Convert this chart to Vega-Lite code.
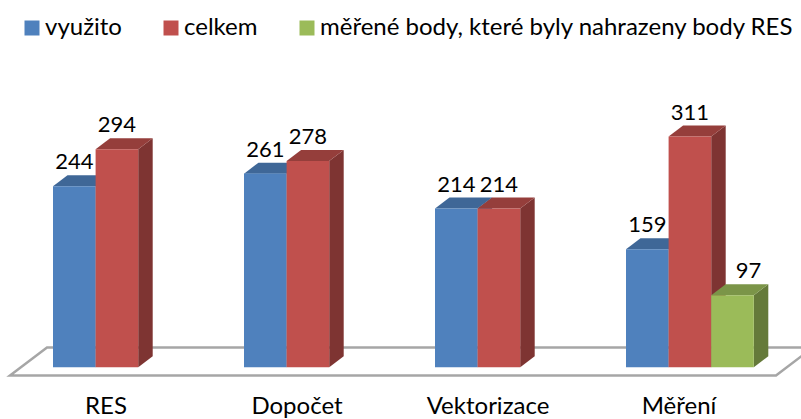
{
"$schema":"https://vega.github.io/schema/vega-lite/v6.json",
"width":801,"height":419,"padding":0,"autosize":{"type":"none"},
"background":"white",
"view":{"stroke":null},
"config":{"font":"Lato"},
"datasets":{
"bars":[
{"skupina":"RES","rada":"využito","hodnota":244},
{"skupina":"RES","rada":"celkem","hodnota":294},
{"skupina":"Dopočet","rada":"využito","hodnota":261},
{"skupina":"Dopočet","rada":"celkem","hodnota":278},
{"skupina":"Vektorizace","rada":"využito","hodnota":214},
{"skupina":"Vektorizace","rada":"celkem","hodnota":214},
{"skupina":"Měření","rada":"využito","hodnota":159},
{"skupina":"Měření","rada":"celkem","hodnota":311},
{"skupina":"Měření","rada":"měřené body, které byly nahrazeny body RES","hodnota":97}
],
"kategorie":[{"skupina":"RES","poradi":0},{"skupina":"Dopočet","poradi":1},{"skupina":"Vektorizace","poradi":2},{"skupina":"Měření","poradi":3}],
"podlaha":[{"p":0,"x":815,"y":26.7},{"p":1,"x":47,"y":26.7},{"p":2,"x":10,"y":-11},{"p":3,"x":776,"y":-11},{"p":4,"x":813,"y":26.7}]
},
"layer":[
{"data":{"name":"podlaha"},
 "mark":{"type":"line","color":"#A6A6A6","strokeWidth":2.5,"clip":false},
 "encoding":{"x":{"field":"x","type":"quantitative","scale":{"domain":[0,801],"nice":false,"zero":false},"axis":null},
 "y":{"field":"y","type":"quantitative","scale":{"domain":[-69.7,495],"nice":false,"zero":false},"axis":null},
 "order":{"field":"p"}}},
{"data":{"name":"bars"},
 "transform":[
 {"calculate":"53+191*indexof(['RES','Dopočet','Vektorizace','Měření'],datum.skupina)+42.6*indexof(['využito','celkem','měřené body, které byly nahrazeny body RES'],datum.rada)","as":"x0"},
 {"calculate":"datum.x0+42.6","as":"x1"},
 {"calculate":"[0,1]","as":"t"},{"flatten":["t"]},
 {"calculate":"datum.x1+14.5*datum.t","as":"sx"},
 {"calculate":"datum.hodnota+14.8*datum.t","as":"sy"},
 {"calculate":"14.8*datum.t","as":"sy2"},
 {"calculate":"datum.skupina+datum.rada","as":"id"}],
 "mark":{"type":"area"},
 "encoding":{"x":{"field":"sx","type":"quantitative","scale":{"domain":[0,801],"nice":false,"zero":false},"axis":null},
 "y":{"field":"sy","type":"quantitative","stack":null,"scale":{"domain":[-69.7,495],"nice":false,"zero":false},"axis":null},
 "y2":{"field":"sy2"},
 "detail":{"field":"id"},
 "color":{"field":"rada","type":"nominal","legend":null,"scale":{"domain":["využito","celkem","měřené body, které byly nahrazeny body RES"],"range":["#3A5F8C","#7E3432","#657A3A"]}}}},
{"data":{"name":"bars"},
 "transform":[
 {"calculate":"53+191*indexof(['RES','Dopočet','Vektorizace','Měření'],datum.skupina)+42.6*indexof(['využito','celkem','měřené body, které byly nahrazeny body RES'],datum.rada)","as":"x0"},
 {"calculate":"datum.x0+42.6","as":"x1"},
 {"calculate":"[0,1]","as":"t"},{"flatten":["t"]},
 {"calculate":"datum.x0+14.5*datum.t","as":"tx"},
 {"calculate":"datum.x1+14.5*datum.t","as":"tx2"},
 {"calculate":"datum.hodnota+14.8*datum.t","as":"ty"},
 {"calculate":"datum.skupina+datum.rada","as":"id"}],
 "mark":{"type":"area","orient":"horizontal"},
 "encoding":{"x":{"field":"tx","type":"quantitative","stack":null,"scale":{"domain":[0,801],"nice":false,"zero":false},"axis":null},
 "x2":{"field":"tx2"},
 "y":{"field":"ty","type":"quantitative","scale":{"domain":[-69.7,495],"nice":false,"zero":false},"axis":null},
 "detail":{"field":"id"},
 "color":{"field":"rada","type":"nominal","legend":null,"scale":{"domain":["využito","celkem","měřené body, které byly nahrazeny body RES"],"range":["#3F6797","#953E3B","#7B9548"]}}}},
{"data":{"name":"bars"},
 "transform":[
 {"calculate":"53+191*indexof(['RES','Dopočet','Vektorizace','Měření'],datum.skupina)+42.6*indexof(['využito','celkem','měřené body, které byly nahrazeny body RES'],datum.rada)","as":"x0"},
 {"calculate":"datum.x0+42.6","as":"x1"}],
 "mark":{"type":"rect"},
 "encoding":{"x":{"field":"x0","type":"quantitative","scale":{"domain":[0,801],"nice":false,"zero":false},"axis":null},
 "x2":{"field":"x1"},
 "y":{"field":"hodnota","type":"quantitative","scale":{"domain":[-69.7,495],"nice":false,"zero":false},"axis":null},
 "y2":{"datum":0},
 "color":{"field":"rada","type":"nominal","sort":null,
 "scale":{"domain":["využito","celkem","měřené body, které byly nahrazeny body RES"],"range":["#4F81BD","#C0504D","#9BBB59"]},
 "legend":{"title":null,"orient":"none","legendX":20,"legendY":16,"direction":"horizontal","columns":3,"gridAlign":"none","symbolType":"square","symbolSize":225,"symbolStrokeWidth":0,"symbolOpacity":1,"labelFont":"Lato","labelFontSize":24,"labelColor":"#000000","labelLimit":1000,"labelOffset":1,"columnPadding":37,"symbolOffset":0,"padding":0,"labelOverlap":false}}}},
{"data":{"name":"bars"},
 "transform":[
 {"calculate":"74.3+191*indexof(['RES','Dopočet','Vektorizace','Měření'],datum.skupina)+42.6*indexof(['využito','celkem','měřené body, které byly nahrazeny body RES'],datum.rada)+(datum.hodnota==97?16:0)","as":"lx"},
 {"calculate":"datum.hodnota+14.8+8","as":"ly"}],
 "mark":{"type":"text","fontSize":22,"font":"Lato","baseline":"alphabetic","align":"center","color":"#000000"},
 "encoding":{"x":{"field":"lx","type":"quantitative","scale":{"domain":[0,801],"nice":false,"zero":false},"axis":null},
 "y":{"field":"ly","type":"quantitative","scale":{"domain":[-69.7,495],"nice":false,"zero":false},"axis":null},
 "text":{"field":"hodnota","type":"quantitative"}}},
{"data":{"name":"kategorie"},
 "transform":[{"calculate":"106+191*datum.poradi","as":"lx"},{"calculate":"-63","as":"ly"}],
 "mark":{"type":"text","fontSize":24,"font":"Lato","baseline":"alphabetic","align":"center","color":"#000000"},
 "encoding":{"x":{"field":"lx","type":"quantitative","scale":{"domain":[0,801],"nice":false,"zero":false},"axis":null},
 "y":{"field":"ly","type":"quantitative","scale":{"domain":[-69.7,495],"nice":false,"zero":false},"axis":null},
 "text":{"field":"skupina","type":"nominal"}}}
],
"resolve":{"scale":{"color":"independent"}}
}
